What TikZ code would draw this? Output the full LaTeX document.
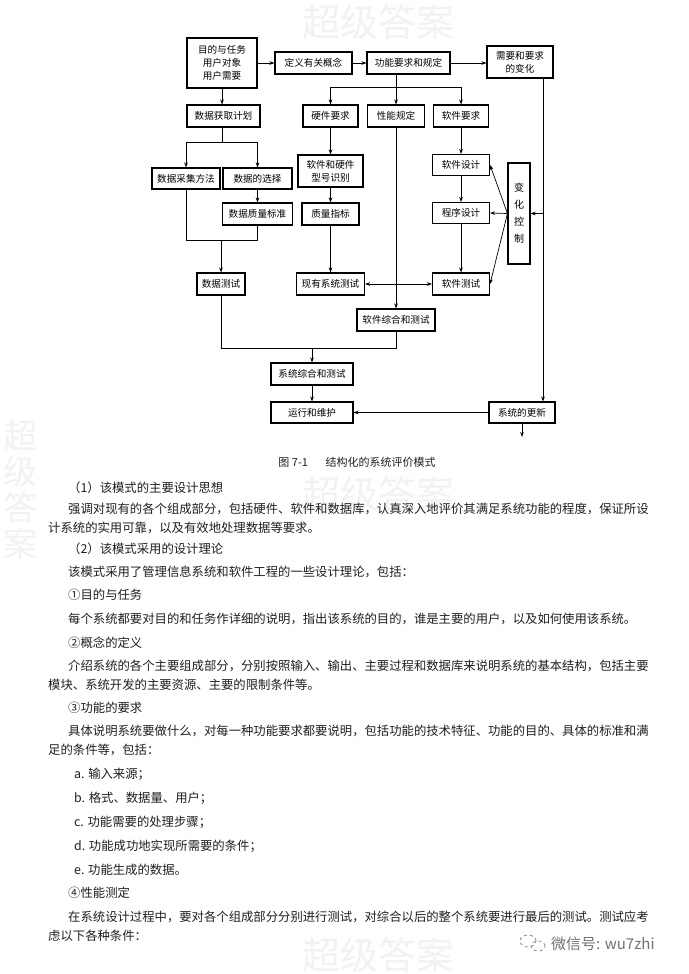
\documentclass[tikz,border=0pt]{standalone}
\usepackage{fontspec}
\setmainfont{Noto Sans CJK SC}
\usetikzlibrary{arrows.meta,calc}
\begin{document}
\begin{tikzpicture}[x=1pt,y=-1pt,
  box/.style={draw,line width=1.1pt,minimum height=22pt,inner sep=1pt,
    font=\fontsize{9.6}{13}\selectfont,align=center},
  conn/.style={line width=0.7pt},
  arr/.style={conn,-{Stealth[length=5pt,width=3.6pt]}},
  darr/.style={conn,{Stealth[length=5pt,width=3.6pt]}-{Stealth[length=5pt,width=3.6pt]}},
  body/.style={anchor=west,inner sep=0pt,text=black!88,font=\fontsize{12.35}{15}\selectfont},
  wm/.style={text=black!5,font=\fontsize{38}{40}\selectfont,inner sep=0pt},
  wmv/.style={text=black!5,font=\fontsize{34}{36}\selectfont,inner sep=0pt,align=center}
]
\useasboundingbox[fill=white] (0,0) rectangle (688,974);
% watermarks
\node[wm] (wm1) at (378,22) {超级答案};
\node[wm] (wm2) at (378,494) {超级答案};
\node[wm] (wm3) at (378,955) {超级答案};
\node[wmv] (wm4) at (20,490) {超\\级\\答\\案};
% diagram boxes
\node[box,minimum width=70pt,minimum height=50pt] (goal) at (222,63) {目的与任务\\用户对象\\用户需要};
\node[box,minimum width=77pt] (def) at (313.5,63) {定义有关概念};
\node[box,minimum width=83pt] (func) at (408.5,63) {功能要求和规定};
\node[box,minimum width=66pt,minimum height=32pt] (change) at (520,62) {需要和要求\\的变化};
\node[box,minimum width=73pt] (plan) at (223.5,116) {数据获取计划};
\node[box,minimum width=55pt] (hw) at (330.5,116) {硬件要求};
\node[box,minimum width=57pt] (perf) at (396,116) {性能规定};
\node[box,minimum width=55pt] (swreq) at (461,116) {软件要求};
\node[box,minimum width=68pt,minimum height=21pt] (collect) at (186,178.5) {数据采集方法};
\node[box,minimum width=69pt,minimum height=21pt] (select) at (257.5,178.5) {数据的选择};
\node[box,minimum width=70pt] (qstd) at (257.5,214) {数据质量标准};
\node[box,minimum width=48pt] (tdata) at (221,284) {数据测试};
\node[box,minimum width=65pt,minimum height=32pt] (model) at (330.5,171) {软件和硬件\\型号识别};
\node[box,minimum width=57pt] (qidx) at (330.5,214) {质量指标};
\node[box,minimum width=68pt] (exist) at (330.5,284) {现有系统测试};
\node[box,minimum width=57pt,minimum height=21pt] (swdes) at (461,165) {软件设计};
\node[box,minimum width=57pt,minimum height=21pt] (prog) at (461,213) {程序设计};
\node[box,minimum width=57pt] (swtest) at (461,284) {软件测试};
\node[box,minimum width=22pt,minimum height=101pt,font=\fontsize{10}{17}\selectfont] (ctrl) at (519,213.5) {变\\化\\控\\制};
\node[box,minimum width=78pt] (swint) at (396,320) {软件综合和测试};
\node[box,minimum width=82pt] (sysint) at (312,374) {系统综合和测试};
\node[box,minimum width=82pt,minimum height=21pt] (run) at (312,412.5) {运行和维护};
\node[box,minimum width=66pt,minimum height=21pt] (upd) at (522,412.5) {系统的更新};
% helper coordinates
\coordinate (jl) at (330.5,87);
\coordinate (jr) at (461,87);
\coordinate (pl) at (186,142);
\coordinate (pr) at (257.5,142);
\coordinate (ql) at (186,240);
\coordinate (qr) at (257.5,240);
\coordinate (tl) at (221,348);
\coordinate (tr) at (396,348);
\coordinate (rx) at (543,0);
\coordinate (out) at (522,437);
% connectors
\draw[arr] (goal) -- (def);
\draw[arr] (def) -- (func);
\draw[arr] (func.east) -- (func.east -| change.west);
\draw[arr] (goal.south) -- (goal.south |- plan.north);
\draw[arr] (func.south -| perf) -- (perf.north);
\draw[conn] (jl) -- (jr);
\draw[arr] (jl) -- (hw.north);
\draw[arr] (jr) -- (swreq.north);
\draw[conn] (plan.south -| goal) -- (pl -| goal);
\draw[conn] (pl) -- (pr);
\draw[arr] (pl) -- (collect.north);
\draw[arr] (pr) -- (select.north);
\draw[arr] (select) -- (qstd);
\draw[conn] (collect.south) -- (ql) -- (qr) -- (qstd.south);
\draw[arr] (ql -| tdata) -- (tdata.north);
\draw[arr] (hw) -- (model);
\draw[arr] (model) -- (qidx);
\draw[arr] (qidx) -- (exist);
\draw[arr] (swreq) -- (swdes);
\draw[arr] (swdes) -- (prog);
\draw[arr] (prog) -- (swtest);
\draw[arr] (ctrl.west) -- (swdes.east);
\draw[arr] (ctrl.west) -- (prog.east);
\draw[arr] (ctrl.west) -- (swtest.east);
\draw[arr] (perf) -- (swint);
\draw[darr] (exist) -- (swtest);
\draw[conn] (tdata.south) -- (tl) -- (tr) -- (swint.south);
\draw[arr] (tl -| sysint) -- (sysint.north);
\draw[arr] (sysint) -- (run);
\draw[arr] (upd) -- (run);
\draw[arr] (change.south -| rx) -- (upd.north -| rx);
\draw[arr] (rx |- ctrl) -- (ctrl.east);
\draw[arr] (upd.south) -- (out);
% caption
\node[font=\fontsize{11}{13}\selectfont,text=black!88] (cap) at (357,462) {图 7-1\hspace{1.6em}结构化的系统评价模式};
% body text
\node[body] (t1) at (68,488) {（1）该模式的主要设计思想};
\node[body] (t2) at (68,509) {强调对现有的各个组成部分，包括硬件、软件和数据库，认真深入地评价其满足系统功能的程度，保证所设};
\node[body] (t3) at (48,528) {计系统的实用可靠，以及有效地处理数据等要求。};
\node[body] (t4) at (68,549) {（2）该模式采用的设计理论};
\node[body] (t5) at (68,572) {该模式采用了管理信息系统和软件工程的一些设计理论，包括：};
\node[body] (t6) at (68,595) {①目的与任务};
\node[body] (t7) at (68,619) {每个系统都要对目的和任务作详细的说明，指出该系统的目的，谁是主要的用户，以及如何使用该系统。};
\node[body] (t8) at (68,643) {②概念的定义};
\node[body] (t9) at (68,666) {介绍系统的各个主要组成部分，分别按照输入、输出、主要过程和数据库来说明系统的基本结构，包括主要};
\node[body] (t10) at (48,685) {模块、系统开发的主要资源、主要的限制条件等。};
\node[body] (t11) at (68,708) {③功能的要求};
\node[body] (t12) at (68,731) {具体说明系统要做什么，对每一种功能要求都要说明，包括功能的技术特征、功能的目的、具体的标准和满};
\node[body] (t13) at (48,750) {足的条件等，包括：};
\node[body] (t14) at (74,774) {a. 输入来源；};
\node[body] (t15) at (74,798) {b. 格式、数据量、用户；};
\node[body] (t16) at (74,822) {c. 功能需要的处理步骤；};
\node[body] (t17) at (74,846) {d. 功能成功地实现所需要的条件；};
\node[body] (t18) at (74,870) {e. 功能生成的数据。};
\node[body] (t19) at (68,893) {④性能测定};
\node[body] (t20) at (68,917) {在系统设计过程中，要对各个组成部分分别进行测试，对综合以后的整个系统要进行最后的测试。测试应考};
\node[body] (t21) at (48,936) {虑以下各种条件：};
% wechat mark
\draw[black!45,line width=0.8pt,dashed] (528,941) ellipse [x radius=8pt,y radius=6pt];
\draw[black!45,line width=0.8pt,dashed] (538,946) ellipse [x radius=7pt,y radius=5pt];
\node[anchor=west,inner sep=0pt,text=black!55,font=\fontsize{15}{17}\selectfont] (wx) at (551,944) {微信号: wu7zhi};
\end{tikzpicture}
\end{document}
